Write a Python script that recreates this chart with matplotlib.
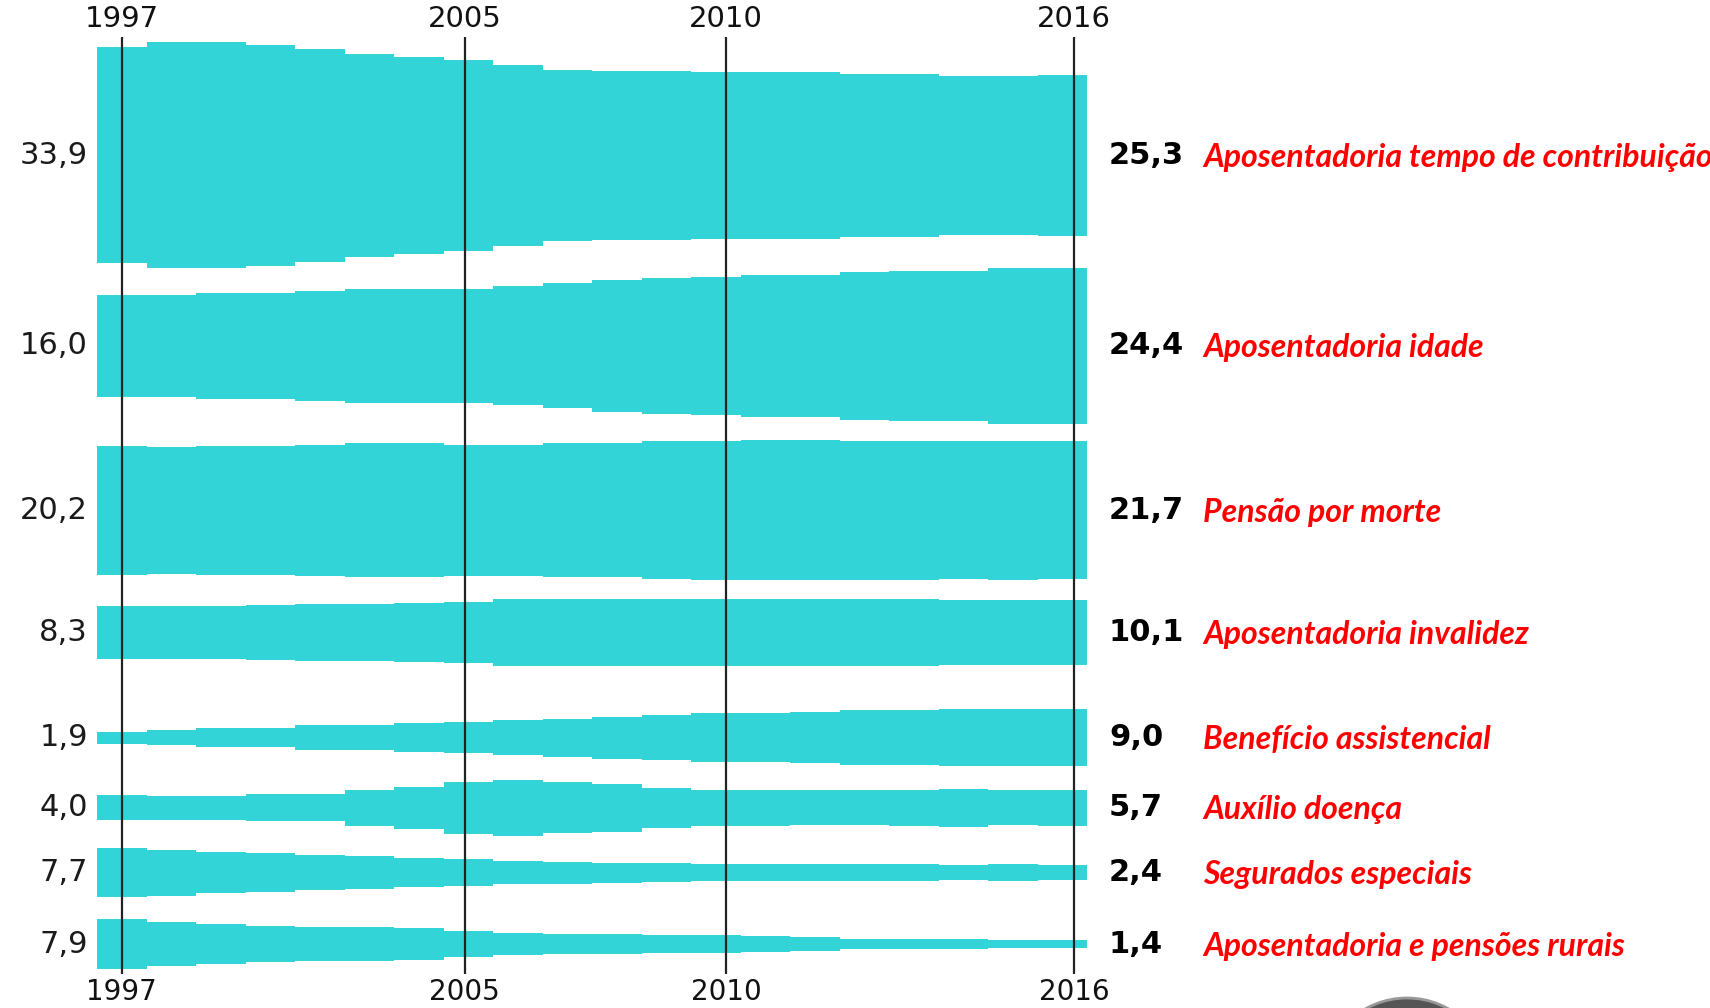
import numpy as np
import matplotlib
import matplotlib.pyplot as plt
from matplotlib.patches import Circle
from matplotlib.transforms import IdentityTransform

years = np.arange(1997, 2017)

categories = [
    "Aposentadoria tempo de contribuição",
    "Aposentadoria idade",
    "Pensão por morte",
    "Aposentadoria invalidez",
    "Benefício assistencial",
    "Auxílio doença",
    "Segurados especiais",
    "Aposentadoria e pensões rurais",
]

# share of each benefit (%), 1997..2016
tempo_contrib = [33.9, 35.5, 35.5, 34.6, 33.4, 31.9, 30.9, 30.0, 28.4, 26.9,
                 26.5, 26.5, 26.3, 26.1, 26.1, 25.7, 25.5, 25.0, 25.0, 25.3]
idade = [16.0, 16.0, 16.6, 16.6, 17.2, 17.8, 18.0, 18.0, 18.7, 19.6,
         20.6, 21.4, 21.6, 22.2, 22.2, 23.2, 23.6, 23.6, 24.4, 24.4]
pensao = [20.2, 20.0, 20.2, 20.2, 20.5, 21.0, 21.0, 20.5, 20.5, 21.0,
          21.0, 21.6, 21.8, 22.0, 22.0, 21.8, 21.8, 21.7, 21.8, 21.7]
invalidez = [8.3, 8.3, 8.3, 8.6, 9.0, 9.0, 9.2, 9.5, 10.4, 10.6,
             10.4, 10.5, 10.5, 10.5, 10.5, 10.5, 10.5, 10.1, 10.1, 10.1]
assistencial = [1.9, 2.3, 2.9, 2.9, 4.0, 4.0, 4.5, 4.9, 5.6, 6.0,
                6.6, 7.0, 7.6, 7.8, 8.1, 8.7, 8.7, 9.0, 9.0, 9.0]
doenca = [4.0, 3.8, 3.8, 4.2, 4.2, 5.6, 6.6, 8.1, 8.8, 8.0,
          7.5, 6.3, 5.6, 5.6, 5.5, 5.5, 5.6, 5.9, 5.5, 5.7]
segurados = [7.7, 7.2, 6.4, 6.2, 5.5, 5.1, 4.6, 4.2, 3.7, 3.4,
             3.1, 2.9, 2.7, 2.7, 2.7, 2.6, 2.6, 2.4, 2.6, 2.4]
rurais = [7.9, 6.8, 6.3, 5.6, 5.4, 5.4, 4.9, 4.2, 3.4, 3.2,
          3.2, 2.8, 2.8, 2.5, 2.1, 1.7, 1.7, 1.7, 1.4, 1.4]

series = [tempo_contrib, idade, pensao, invalidez,
          assistencial, doenca, segurados, rurais]

# layout: band centre lines (in % units from the top)
centers = [24.4, 54.3, 80.1, 99.3, 115.8, 126.8, 137.0, 148.2]

# year guides as they sit in the source picture
guide_years = [1997, 2005, 2010, 2016]
guide_pos = [1997.0, 2003.93, 2009.21, 2016.24]

teal = "#32D4D7"

W, H = 1710, 1008
fig = plt.figure(figsize=(W / 100, H / 100), dpi=100)
ax = fig.add_axes([0, 0, 1, 1])
px_year = 49.5   # pixels per year
px_pct = 6.37    # pixels per percentage point
x0 = 1996.5 - 97 / px_year
ax.set_xlim(x0, x0 + W / px_year)
ax.set_ylim(H / px_pct, 0)
ax.axis("off")

edges = np.append(years - 0.5, years[-1] + 0.5)
for vals, c in zip(series, centers):
    v = np.append(vals, vals[-1])
    ax.fill_between(edges, c - v / 2, c + v / 2, step="post",
                    color=teal, lw=0, zorder=1)

ax.vlines(guide_pos, 37 / px_pct, 974 / px_pct, color="#222222", lw=1.6, zorder=3)
for yr, p in zip(guide_years, guide_pos):
    ax.text(p, 19 / px_pct, str(yr), ha="center", va="center",
            fontsize=21, color="#111111", family="DejaVu Sans")
    ax.text(p, 992 / px_pct, str(yr), ha="center", va="center",
            fontsize=20, color="#111111", family="DejaVu Sans")


def fmt(v):
    return f"{v:.1f}".replace(".", ",")


for name, vals, c in zip(categories, series, centers):
    ax.annotate(fmt(vals[0]), (edges[0], c), xytext=(-9, 0),
                textcoords="offset pixels", ha="right", va="center",
                fontsize=22, color="#1a1a1a", family="DejaVu Sans")
    ax.annotate(fmt(vals[-1]), (edges[-1], c), xytext=(22, 0),
                textcoords="offset pixels", ha="left", va="center",
                fontsize=22, color="#000000", weight="bold", family="DejaVu Sans")
    ax.annotate(name, (edges[-1], c), xytext=(116, -2),
                textcoords="offset pixels", ha="left", va="center",
                fontsize=23, color="#FF0000", weight="bold", style="italic",
                family=["Lato", "DejaVu Sans"])

# grey blob cut off at the bottom edge of the source
ax.add_patch(Circle((1407, -75), 85, transform=IdentityTransform(),
                    facecolor="#555555", edgecolor="#999999", lw=2))

fig.savefig("out.png", dpi=100)
